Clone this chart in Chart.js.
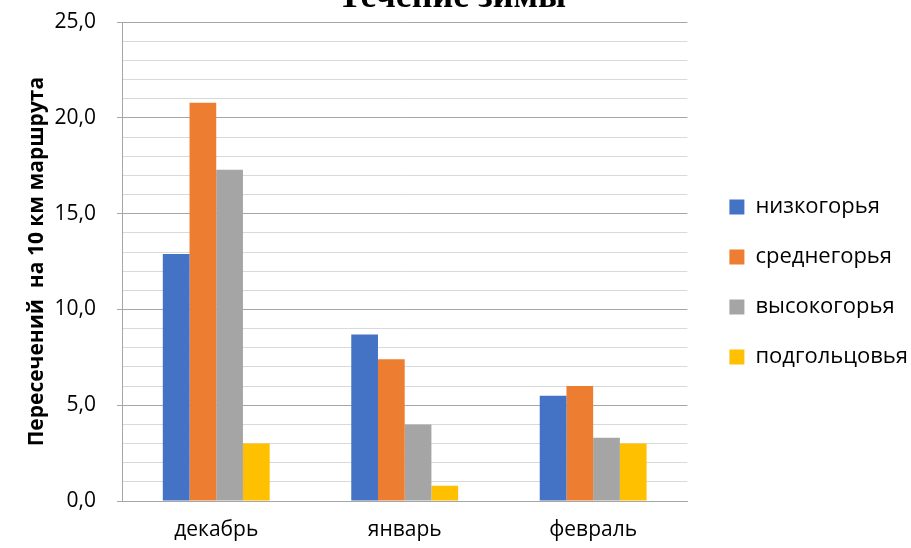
<!DOCTYPE html>
<html>
<head>
<meta charset="utf-8">
<script src="https://cdn.jsdelivr.net/npm/chart.js@4"></script>
<style>
  html, body { margin: 0; padding: 0; background: #fff; overflow: hidden; }
  .page { position: relative; width: 911px; height: 548px; overflow: hidden; }
  /* the title is cut off at the top in the original, so the canvas starts above the page */
  .chart-box { position: absolute; left: 0; top: -26px; width: 911px; height: 574px; }
</style>
</head>
<body>
<div class="page"><div class="chart-box"><canvas id="winter-chart"></canvas></div></div>
<script>
  var months = ['декабрь', 'январь', 'февраль'];
  var lowMountains = [12.9, 8.7, 5.5];
  var midMountains = [20.8, 7.4, 6.0];
  var highMountains = [17.3, 4.0, 3.3];
  var subAlpine = [3.0, 0.8, 3.0];
  var seriesNames = ['низкогорья', 'среднегорья', 'высокогорья', 'подгольцовья'];
  var yMax = 25;

  var mainFont = '"Open Sans", "Liberation Sans", sans-serif';

  // moves the legend a bit right and down, like in the original
  var legendNudge = {
    id: 'legendNudge',
    afterLayout: function (chart) {
      var lg = chart.legend;
      if (!lg) return;
      lg.left += 14;
      lg.right += 14;
      lg.top += 21;
      lg.bottom += 21;
    }
  };

  var ctx = document.getElementById('winter-chart').getContext('2d');
  var winterChart = new Chart(ctx, {
    type: 'bar',
    data: {
      labels: months,
      datasets: [
        { label: seriesNames[0], data: lowMountains, backgroundColor: '#4472C4' },
        { label: seriesNames[1], data: midMountains, backgroundColor: '#ED7D31' },
        { label: seriesNames[2], data: highMountains, backgroundColor: '#A5A5A5' },
        { label: seriesNames[3], data: subAlpine, backgroundColor: '#FFC000' }
      ]
    },
    options: {
      responsive: true,
      maintainAspectRatio: false,
      animation: false,
      categoryPercentage: 0.567,
      barPercentage: 1,
      borderWidth: 0,
      layout: {
        padding: { left: 0, right: 7, top: 0, bottom: 0 }
      },
      scales: {
        x: {
          grid: { display: false, drawTicks: false },
          border: { display: true, color: '#a6a6a6', width: 1 },
          ticks: {
            color: '#000',
            padding: 16,
            font: { family: mainFont, size: 21 }
          },
          afterFit: function (scale) {
            scale.height = 47;
          }
        },
        y: {
          min: 0,
          max: yMax,
          ticks: {
            stepSize: 1,
            autoSkip: false,
            color: '#000',
            padding: 21,
            font: { family: mainFont, size: 21 },
            callback: function (value) {
              return value % 5 === 0 ? value.toFixed(1).replace('.', ',') : '';
            }
          },
          grid: {
            drawTicks: true,
            tickLength: 5,
            color: function (c) {
              return c.tick && c.tick.value % 5 === 0 ? '#a6a6a6' : '#d9d9d9';
            },
            tickColor: function (c) {
              return c.tick && c.tick.value % 5 === 0 ? '#a6a6a6' : 'rgba(0,0,0,0)';
            },
            lineWidth: 1
          },
          border: { display: true, color: '#a6a6a6', width: 1 },
          title: {
            display: true,
            text: 'Пересечений  на 10 км маршрута',
            color: '#000',
            padding: { top: 24, bottom: 0 },
            font: { family: mainFont, size: 21, weight: 'bold' }
          },
          afterFit: function (scale) {
            scale.width = 122;
          }
        }
      },
      plugins: {
        title: {
          display: true,
          text: 'Течение зимы',
          color: '#000',
          padding: { top: 2, bottom: 3 },
          font: { family: '"Liberation Serif", "Times New Roman", serif', size: 36, weight: 'bold' }
        },
        legend: {
          position: 'right',
          labels: {
            boxWidth: 15,
            boxHeight: 15,
            padding: 28,
            color: '#000',
            font: { family: mainFont, size: 22 }
          }
        },
        tooltip: { enabled: false }
      }
    },
    plugins: [legendNudge]
  });
</script>
</body>
</html>
